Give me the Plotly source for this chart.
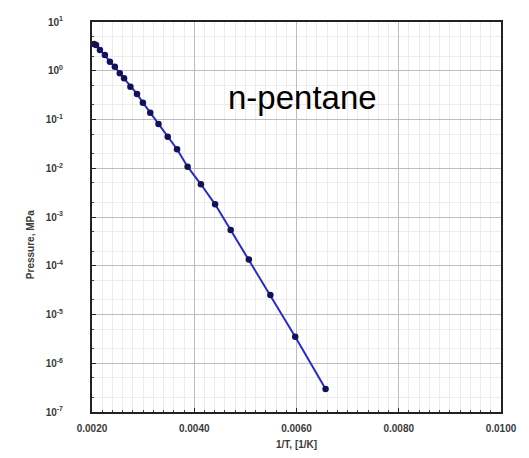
import plotly.graph_objects as go

inv_T = [0.002039, 0.002078, 0.002155, 0.002252, 0.002350, 0.002447, 0.002544, 0.002627,
         0.002751, 0.002880, 0.002996, 0.003139, 0.003301, 0.003481, 0.003664, 0.003870,
         0.004130, 0.004408, 0.004713, 0.005068, 0.005489, 0.005975, 0.006569]
pressure = [3.54, 3.37, 2.67, 2.10, 1.53, 1.21, 0.887, 0.70,
            0.471, 0.334, 0.221, 0.138, 0.081, 0.0444, 0.0245, 0.01076,
            0.00469, 0.00182, 0.000541, 0.000135, 2.51e-5, 3.5e-6, 2.96e-7]

x_ticks = [0.002, 0.004, 0.006, 0.008, 0.010]
x_tick_labels = ["0.0020", "0.0040", "0.0060", "0.0080", "0.0100"]
y_exps = [1, 0, -1, -2, -3, -4, -5, -6, -7]
y_ticks = [10.0 ** e for e in y_exps]
y_tick_labels = ["10<sup>%d</sup>" % e for e in y_exps]

W, H = 529, 458
ML, MR, MT, MB = 92, 24, 22, 46

fig = go.Figure()
fig.add_trace(go.Scatter(
    x=inv_T, y=pressure, mode="lines+markers",
    line=dict(color="#2a2ac8", width=2),
    marker=dict(color="#12125a", size=6.5),
    showlegend=False,
))

axis_font = dict(family="Arial", size=10, color="#3a3a3a", weight="bold")
fig.update_xaxes(
    range=[0.002, 0.010], tickvals=x_ticks, ticktext=x_tick_labels,
    showline=True, linecolor="#222222", linewidth=2, mirror=True,
    ticks="inside", ticklen=4, tickcolor="#222222",
    showgrid=True, gridcolor="#bdbdbd", gridwidth=1,
    minor=dict(dtick=0.0002, showgrid=True, gridcolor="#ececec", ticks="inside", ticklen=2, tickcolor="#444444"),
    tickfont=axis_font, ticklabelstandoff=6, zeroline=False,
)
fig.update_yaxes(
    type="log", range=[-7, 1], tickvals=y_ticks, ticktext=y_tick_labels,
    showline=True, linecolor="#222222", linewidth=2, mirror=True,
    ticks="inside", ticklen=4, tickcolor="#222222",
    showgrid=True, gridcolor="#bdbdbd", gridwidth=1,
    minor=dict(showgrid=True, gridcolor="#ececec", ticks="inside", ticklen=2, tickcolor="#444444"),
    tickfont=axis_font, ticklabelstandoff=25, zeroline=False,
)
fig.add_annotation(
    x=0.00612, y=-0.54, xref="x", yref="y", text="n-pentane", showarrow=False,
    font=dict(family="Arial", size=33, color="#000000"),
)
pw, ph = W - ML - MR, H - MT - MB
fig.add_annotation(
    x=(22 - ML) / pw, y=1 - (245 - MT) / ph, xref="paper", yref="paper",
    text="Pressure, MPa", showarrow=False, textangle=-90,
    font=dict(family="Arial", size=10, color="#3a3a3a", weight="bold"),
)
fig.add_annotation(
    x=(298 - ML) / pw, y=1 - (452 - MT) / ph, xref="paper", yref="paper",
    text="1/T, [1/K]", showarrow=False,
    font=dict(family="Arial", size=10, color="#3a3a3a", weight="bold"),
)
fig.update_layout(
    width=W, height=H,
    margin=dict(l=ML, r=MR, t=MT, b=MB),
    paper_bgcolor="white", plot_bgcolor="white",
)
fig.write_html("out.html")
